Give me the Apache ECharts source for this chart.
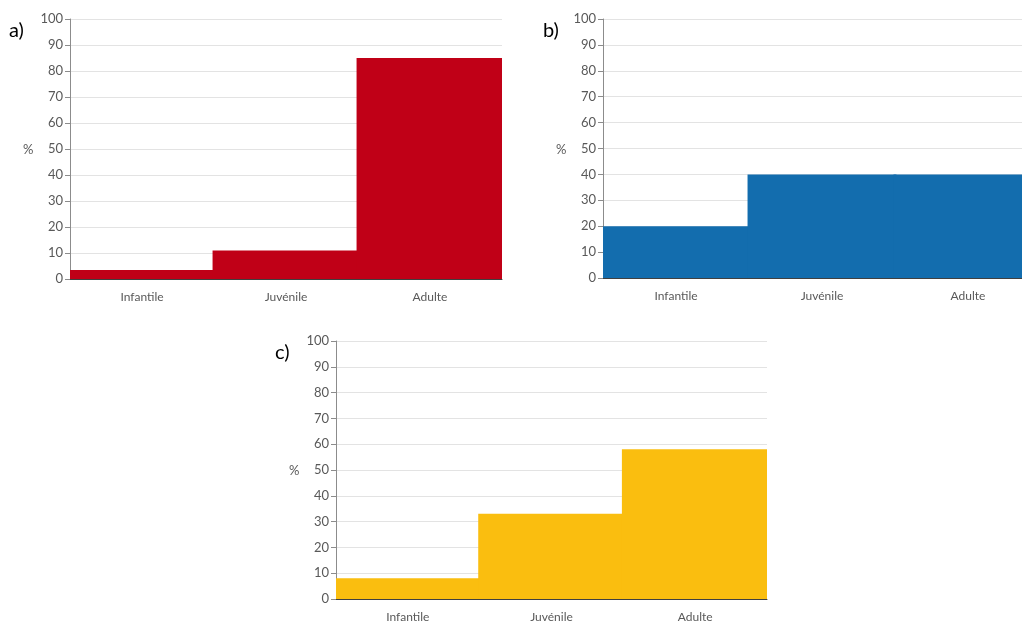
<!DOCTYPE html>
<html><head><meta charset="utf-8">
<script src="https://cdn.jsdelivr.net/npm/echarts@6/dist/echarts.min.js"></script>
<style>html,body{margin:0;padding:0;background:#fff}#c{width:1022px;height:623px}</style>
</head><body><div id="c"></div>
<script>
var categories = ['Infantile', 'Juvénile', 'Adulte'];
var valuesA = [3.5, 11, 85];
var valuesB = [20, 40, 40];
var valuesC = [8, 33, 58];
var panelLabels = ['a)', 'b)', 'c)'];
var yTicks = [0, 10, 20, 30, 40, 50, 60, 70, 80, 90, 100];

var font = 'Lato, "Open Sans", sans-serif';
var grids = [
  {left: 70, top: 19, width: 432, height: 260, outerBoundsMode: 'none'},
  {left: 603, top: 19, width: 438, height: 259, outerBoundsMode: 'none'},
  {left: 336, top: 341, width: 431, height: 258, outerBoundsMode: 'none'}
];
var colors = ['#C00017', '#136DAE', '#FABE0F'];
var series = [valuesA, valuesB, valuesC];

var xAxes = [], yAxes = [], ser = [];
for (var i = 0; i < 3; i++) {
  xAxes.push({
    type: 'category', gridIndex: i, data: categories,
    axisLine: {lineStyle: {color: '#404040', width: 1}},
    axisTick: {show: false},
    axisLabel: {color: '#595959', fontSize: 12, fontFamily: font, margin: 12}
  });
  yAxes.push({
    type: 'value', gridIndex: i, min: yTicks[0], max: yTicks[yTicks.length - 1], interval: 10,
    axisLine: {show: true, lineStyle: {color: '#8c8c8c'}},
    axisTick: {show: true, length: 5, lineStyle: {color: '#8c8c8c'}},
    axisLabel: {color: '#595959', fontSize: 13, fontFamily: font, margin: 7},
    splitLine: {lineStyle: {color: '#e3e3e3'}}
  });
  ser.push({
    type: 'bar', xAxisIndex: i, yAxisIndex: i, data: series[i],
    barWidth: '102%', barGap: '-100%',
    itemStyle: {color: colors[i]}, silent: true, clip: true
  });
}
var graphics = [
  {type: 'text', left: 9, top: 21, style: {text: panelLabels[0], fontSize: 20, fontFamily: font, fill: '#000'}},
  {type: 'text', left: 543, top: 21, style: {text: panelLabels[1], fontSize: 20, fontFamily: font, fill: '#000'}},
  {type: 'text', left: 275, top: 343, style: {text: panelLabels[2], fontSize: 20, fontFamily: font, fill: '#000'}},
  {type: 'text', left: 23, top: 143, style: {text: '%', fontSize: 13, fontFamily: font, fill: '#595959'}},
  {type: 'text', left: 556, top: 143, style: {text: '%', fontSize: 13, fontFamily: font, fill: '#595959'}},
  {type: 'text', left: 289, top: 464, style: {text: '%', fontSize: 13, fontFamily: font, fill: '#595959'}}
];
var chart = echarts.init(document.getElementById('c'));
chart.setOption({
  animation: false,
  grid: grids,
  xAxis: xAxes,
  yAxis: yAxes,
  series: ser,
  graphic: graphics
});
</script></body></html>
